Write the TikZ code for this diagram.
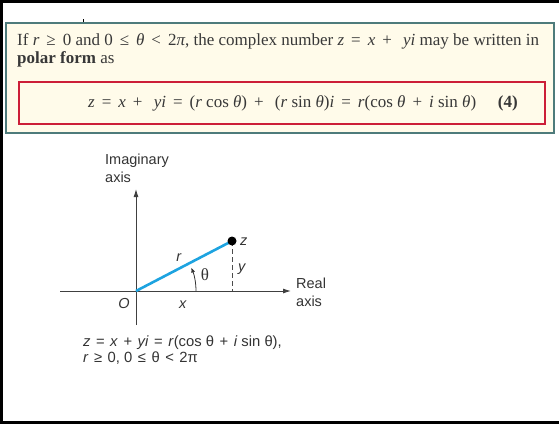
\documentclass[tikz,border=0pt]{standalone}
\usepackage{fontspec}
\setmainfont{Liberation Serif}
\newfontfamily\helv{Liberation Sans}
\usepackage{xcolor}
\usepackage{tikz}
\usetikzlibrary{arrows.meta}

\definecolor{boxfill}{HTML}{FFFBEA}
\definecolor{boxedge}{HTML}{4E7B7B}
\definecolor{eqred}{HTML}{CC1E38}
\definecolor{rayblue}{HTML}{1DA3E0}
\definecolor{txt}{HTML}{383838}

\newcommand{\rel}[1]{\hspace{7pt}#1\hspace{7pt}}
\newcommand{\srel}[1]{\hspace{5.5pt}#1\hspace{5.5pt}}

\begin{document}
\begin{tikzpicture}[
    x=1pt, y=-1pt,
    border/.style={line width=3pt, black},
    notebox/.style={draw=boxedge, line width=1.2pt, fill=boxfill},
    eqframe/.style={draw=eqred, line width=1.6pt},
    serif/.style={font=\fontsize{17}{18}\selectfont, text=txt, inner sep=0pt},
    axis/.style={draw=black!75, line width=0.9pt, -{Latex[length=8pt, width=5pt]}},
    ray/.style={draw=rayblue, line width=2.6pt},
    drop/.style={draw=black!70, line width=0.8pt, dash pattern=on 5pt off 3pt},
    anglearr/.style={draw=black!80, line width=0.8pt, -{Latex[length=5pt, width=4pt]}},
    lbl/.style={font=\helv\fontsize{14.5}{16}\selectfont, text=black!80, inner sep=0pt},
    caption/.style={font=\helv\fontsize{14.8}{16}\selectfont, text=black!80, inner sep=0pt},
]
\useasboundingbox (0,0) rectangle (559,424);

% frame and the box with the definition
\draw[border] (559,1.5) -- (1.25,1.5) -- (1.25,422.5) -- (559,422.5);
\draw[line width=1.5pt] (83.5,19) -- (83.5,24);
\draw[notebox] (6,23) rectangle (554,133);
\draw[eqframe] (19,82) rectangle (545,124);

\node[serif, anchor=base west] (line1) at (17,45) {If \textit{r}\rel{≥}0 and 0\rel{≤}\textit{θ}\rel{<}2\textit{π}, the complex number \textit{z}\rel{=}\textit{x}\rel{+}\ \textit{yi} may be written in};
\node[serif, anchor=base west] (line2) at (17,63) {\textbf{polar form} as};
\node[serif, anchor=base west] (eq) at (88,107) {\textit{z}\rel{=}\textit{x}\rel{+}\ \textit{yi}\rel{=}(\textit{r} cos \textit{θ})\rel{+}\ (\textit{r} sin \textit{θ})\textit{i}\rel{=}\textit{r}(cos \textit{θ}\rel{+}\textit{i} sin \textit{θ})};
\node[serif, anchor=base east] (eqnum) at (518,107) {\textbf{(4)}};

% the complex plane
\coordinate (O) at (136,291);
\coordinate (xstart) at (60,291);
\coordinate (xend) at (291,291);
\coordinate (ybot) at (136,325);
\coordinate (ytop) at (136,189);
\coordinate (zpt) at (232,241);
\coordinate (zfoot) at (232,291);
\coordinate (arcstart) at (196,291);

\draw[axis] (xstart) -- (xend);
\draw[axis] (ybot) -- (ytop);
\draw[drop] (zpt) -- (zfoot);
\draw[ray] (O) -- (zpt);
\node[circle, fill=black, inner sep=0pt, minimum size=9pt] (z) at (zpt) {};
\draw[anglearr] (arcstart) arc[start angle=0, end angle=-23, radius=60];

\node[lbl, anchor=base west] (imag1) at (105,164) {Imaginary};
\node[lbl, anchor=base west] (imag2) at (105,182) {axis};
\node[lbl, anchor=base west] (real1) at (296,288) {Real};
\node[lbl, anchor=base west] (real2) at (296,306) {axis};
\node[lbl, anchor=base] (olbl) at (124,308) {\textit{O}};
\node[lbl, anchor=base] (xlbl) at (183,308) {\textit{x}};
\node[lbl, anchor=base] (rlbl) at (179,261) {\textit{r}};
\node[lbl, anchor=base, font=\fontsize{17}{18}\selectfont] (thlbl) at (205,280) {θ};
\node[lbl, anchor=base west] (ylbl) at (238,271) {\textit{y}};
\node[lbl, anchor=base west] (zlbl) at (240,245) {\textit{z}};

\node[caption, anchor=base west] (cap1) at (83,346) {\textit{z}\srel{=}\textit{x}\srel{+}\textit{yi}\srel{=}\textit{r}(cos θ\srel{+}\textit{i} sin θ),};
\node[caption, anchor=base west] (cap2) at (83,362) {\textit{r}\srel{≥}0, 0\srel{≤}θ\srel{<}2π};
\end{tikzpicture}
\end{document}
